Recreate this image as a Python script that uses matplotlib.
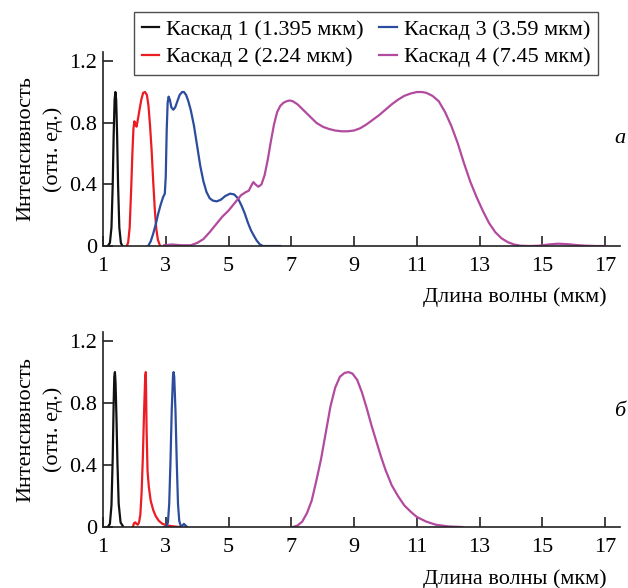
import matplotlib
matplotlib.use('Agg')
import matplotlib.pyplot as plt

plt.rcParams['font.family'] = ['Liberation Serif', 'DejaVu Serif']
plt.rcParams['font.size'] = 16

# --- (a) broadband cascade spectra ---
a1_x = [1.15, 1.22, 1.27, 1.31, 1.34, 1.37, 1.395, 1.42, 1.45, 1.48, 1.52, 1.57, 1.62]
a1_y = [0, 0.02, 0.12, 0.40, 0.72, 0.95, 1.0, 0.95, 0.72, 0.40, 0.12, 0.02, 0]

a2_x = [1.75, 1.80, 1.85, 1.90, 1.94, 1.97, 2.00, 2.04, 2.07, 2.11, 2.16, 2.22, 2.28,
        2.34, 2.40, 2.45, 2.50, 2.55, 2.60, 2.65, 2.70, 2.75, 2.82]
a2_y = [0, 0.02, 0.12, 0.38, 0.62, 0.76, 0.81, 0.79, 0.775, 0.82, 0.88, 0.95, 0.995,
        1.0, 0.98, 0.91, 0.78, 0.62, 0.42, 0.24, 0.11, 0.04, 0]

a3_x = [2.44, 2.52, 2.60, 2.68, 2.76, 2.84, 2.92, 2.97, 3.00, 3.03, 3.06, 3.09, 3.13,
        3.18, 3.24, 3.30, 3.37, 3.44, 3.52, 3.58, 3.65, 3.72, 3.80, 3.90, 4.00, 4.10,
        4.20, 4.30, 4.40, 4.50, 4.62, 4.75, 4.90, 5.05, 5.18, 5.30, 5.42, 5.52, 5.62,
        5.72, 5.80, 5.90, 6.00, 6.10, 6.30, 6.65]
a3_y = [0, 0.03, 0.08, 0.14, 0.21, 0.27, 0.32, 0.34, 0.45, 0.75, 0.93, 0.97, 0.95,
        0.90, 0.885, 0.90, 0.94, 0.98, 1.0, 1.0, 0.98, 0.94, 0.88, 0.78, 0.65, 0.52,
        0.42, 0.35, 0.31, 0.295, 0.29, 0.30, 0.325, 0.34, 0.335, 0.31, 0.26, 0.21, 0.15,
        0.10, 0.07, 0.035, 0.01, 0, 0, 0]

a4_x = [2.95, 3.2, 3.5, 3.8, 4.0, 4.2, 4.4, 4.6, 4.8, 5.0, 5.2, 5.4, 5.55, 5.65, 5.72,
        5.79, 5.86, 5.95, 6.05, 6.15, 6.25, 6.35, 6.45, 6.55, 6.65, 6.75, 6.85, 6.95,
        7.05, 7.2, 7.4, 7.6, 7.8, 8.0, 8.2, 8.4, 8.6, 8.8, 9.0, 9.2, 9.4, 9.6, 9.8,
        10.0, 10.2, 10.4, 10.6, 10.8, 11.0, 11.15, 11.3, 11.5, 11.7, 11.9, 12.1, 12.3,
        12.5, 12.7, 12.9, 13.1, 13.3, 13.5, 13.7, 13.9, 14.1, 14.3, 14.6, 14.9, 15.2,
        15.5, 15.8, 16.1, 16.4, 16.7, 17.0]
a4_y = [0.005, 0.01, 0.005, 0.005, 0.02, 0.045, 0.09, 0.14, 0.19, 0.23, 0.28, 0.33,
        0.35, 0.36, 0.39, 0.415, 0.40, 0.385, 0.40, 0.46, 0.56, 0.68, 0.79, 0.87, 0.91,
        0.93, 0.94, 0.945, 0.94, 0.92, 0.88, 0.84, 0.80, 0.775, 0.76, 0.75, 0.745,
        0.745, 0.75, 0.765, 0.79, 0.82, 0.85, 0.885, 0.92, 0.95, 0.975, 0.99, 1.0, 1.0,
        0.995, 0.975, 0.94, 0.87, 0.78, 0.67, 0.54, 0.42, 0.32, 0.23, 0.15, 0.09, 0.05,
        0.025, 0.01, 0.002, 0, 0.002, 0.01, 0.015, 0.012, 0.006, 0.002, 0, 0]

# --- (б) narrowband cascade spectra ---
b1_x = [1.15, 1.22, 1.27, 1.31, 1.34, 1.36, 1.38, 1.40, 1.43, 1.46, 1.50, 1.56, 1.65]
b1_y = [0, 0.02, 0.14, 0.45, 0.80, 0.97, 1.0, 0.93, 0.70, 0.42, 0.15, 0.03, 0]

b2_x = [1.95, 1.99, 2.03, 2.07, 2.11, 2.15, 2.19, 2.23, 2.27, 2.31, 2.345, 2.365, 2.39,
        2.42, 2.46, 2.52, 2.60, 2.68, 2.78, 2.90, 3.05, 3.25, 3.45]
b2_y = [0, 0.025, 0.03, 0.02, 0.015, 0.03, 0.08, 0.22, 0.45, 0.75, 0.97, 1.0, 0.62,
        0.36, 0.26, 0.17, 0.11, 0.07, 0.04, 0.02, 0.01, 0.004, 0]

b3_x = [2.95, 3.02, 3.07, 3.11, 3.15, 3.19, 3.23, 3.25, 3.27, 3.31, 3.35, 3.39, 3.43,
        3.48, 3.53, 3.58, 3.63, 3.68]
b3_y = [0, 0.005, 0.03, 0.15, 0.42, 0.75, 0.97, 1.0, 0.97, 0.75, 0.42, 0.15, 0.04,
        0.005, 0.01, 0.02, 0.01, 0]

b4_x = [7.05, 7.2, 7.35, 7.5, 7.65, 7.8, 7.95, 8.1, 8.25, 8.4, 8.55, 8.7, 8.83, 8.95,
        9.1, 9.25, 9.4, 9.55, 9.7, 9.85, 10.0, 10.2, 10.4, 10.6, 10.8, 11.0, 11.3, 11.6,
        12.0, 12.45]
b4_y = [0, 0.01, 0.035, 0.09, 0.17, 0.30, 0.44, 0.61, 0.78, 0.90, 0.97, 0.995, 1.0,
        0.99, 0.95, 0.87, 0.77, 0.66, 0.56, 0.46, 0.37, 0.27, 0.20, 0.14, 0.10, 0.065,
        0.035, 0.015, 0.004, 0]

labels = ['Каскад 1 (1.395 мкм)', 'Каскад 2 (2.24 мкм)',
          'Каскад 3 (3.59 мкм)', 'Каскад 4 (7.45 мкм)']
colors = ['#111111', '#ec1c24', '#2c4c9e', '#b24a9f']
xticks = [1, 3, 5, 7, 9, 11, 13, 15, 17]
yticks = [0, 0.4, 0.8, 1.2]
yticklabels = ['0', '0.4', '0.8', '1.2']

fig = plt.figure(figsize=(6.28, 5.88), dpi=100)
ax_a = fig.add_axes([0.164, 0.5816, 0.823, 0.33])
ax_b = fig.add_axes([0.164, 0.1037, 0.823, 0.332])

panels = [
    (ax_a, [(a1_x, a1_y), (a2_x, a2_y), (a3_x, a3_y), (a4_x, a4_y)], 'a', 0.765),
    (ax_b, [(b1_x, b1_y), (b2_x, b2_y), (b3_x, b3_y), (b4_x, b4_y)], 'б', 0.300),
]

for ax, series, tag, tag_y in panels:
    for (x, y), c, lab in zip(series, colors, labels):
        ax.plot(x, y, color=c, lw=1.6, label=lab, solid_joinstyle='round')
    ax.set_xlim(1, 17.47)
    ax.set_ylim(0, 1.26)
    ax.set_xticks(xticks)
    ax.set_yticks(yticks)
    ax.set_yticklabels(yticklabels)
    ax.tick_params(direction='in', length=7, width=1.2, color='#222222')
    ax.tick_params(axis='x', pad=8)
    ax.tick_params(axis='y', pad=4)
    for s in ['top', 'right']:
        ax.spines[s].set_visible(False)
    for s in ['left', 'bottom']:
        ax.spines[s].set_linewidth(1.2)
        ax.spines[s].set_color('#222222')
    ax.set_ylabel('Интенсивность\n(отн. ед.)', linespacing=1.5, labelpad=5)
    ax.text(0.975, -0.265, 'Длина волны (мкм)', transform=ax.transAxes,
            ha='right', va='center')
    # panel letter near the right edge of the figure
    fig.text(0.996, tag_y, tag, style='italic', ha='right', va='center')

handles, labs = ax_a.get_legend_handles_labels()
leg = fig.legend(handles, labs, ncol=2, loc='upper left',
                 bbox_to_anchor=(0.213, 0.98), frameon=True, fancybox=False,
                 handlelength=0.8, handletextpad=0.3, columnspacing=0.7,
                 borderpad=0.35, labelspacing=0.3, borderaxespad=0)
leg.get_frame().set_edgecolor('#222222')
leg.get_frame().set_linewidth(1.0)

fig.savefig('out.png', dpi=100)
